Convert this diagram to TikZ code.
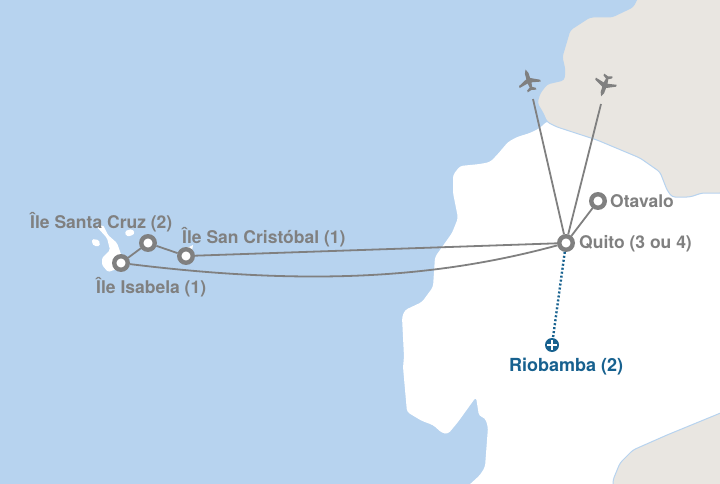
\documentclass[tikz,border=0pt]{standalone}
\usepackage{fontspec}
\setmainfont{TeX Gyre Heros}
\definecolor{sea}{HTML}{B7D3EF}
\definecolor{land}{HTML}{E9E6E1}
\definecolor{route}{HTML}{808080}
\definecolor{extra}{HTML}{17618F}
\newcommand{\planeshape}{(0,-12) -- (1.8,-8) -- (2,-2.5) -- (11,2) -- (11,4) -- (2,2) -- (1.2,6.5) -- (4.5,8.5) -- (4.5,10.5) -- (0,9.2) -- (-4.5,10.5) -- (-4.5,8.5) -- (-1.2,6.5) -- (-2,2) -- (-11,4) -- (-11,2) -- (-2,-2.5) -- (-1.8,-8) -- cycle}
\begin{document}
\begin{tikzpicture}[x=1pt,y=-1pt,
    stop_node/.style={circle,draw=route,fill=white,line width=4.4pt,minimum size=13.5pt,inner sep=0pt},
    extra_node/.style={circle,fill=extra,minimum size=14pt,inner sep=0pt},
    route_label/.style={text=route,inner sep=0pt,font=\bfseries\fontsize{17.5}{17.5}\selectfont},
    extra_label/.style={text=extra,inner sep=0pt,font=\bfseries\fontsize{18}{18}\selectfont},
    route_edge/.style={route,line width=1.8pt},
    extra_edge/.style={extra,line width=2.4pt,dash pattern=on 2pt off 2pt},
    plus_mark/.style={white,line width=2pt},
    plane_mark/.style={fill=route,draw=none},
    land_edge/.style={draw=sea,line width=1pt},
    coast/.style={rounded corners=3pt}]
  \useasboundingbox (0,0) rectangle (720,484);
  \fill[sea] (0,0) rectangle (720,484);
  % ecuador
  \fill[white,coast] (546,122) -- (540,128) -- (530,133) -- (517,137) -- (508,142) -- (497,155) -- (490,162) -- (480,164) -- (460,166) -- (453,175) -- (453,193) -- (458,218) -- (452,233) -- (435,257) -- (433,287) -- (422,302) -- (405,310) -- (402,317) -- (404,357) -- (403,367) -- (407,412) -- (422,421) -- (433,425) -- (442,433) -- (448,434) -- (458,422) -- (476,397) -- (479,416) -- (485,418) -- (488,427) -- (485,467) -- (480,475) -- (468,486) -- (722,486) -- (722,185) -- (670,170) -- (640,150) -- (597,132) -- (557,120) -- cycle;
  % neighbours
  \filldraw[fill=land,land_edge,coast] (638,-3) -- (633,7) -- (612,17) -- (590,17) -- (570,30) -- (562,57) -- (565,70) -- (564,80) -- (547,84) -- (540,93) -- (537,103) -- (543,113) -- (547,122) -- (557,127) -- (597,140) -- (640,158) -- (660,172) -- (667,190) -- (672,197) -- (690,197) -- (702,193) -- (723,193) -- (723,-3) -- cycle;
  \filldraw[fill=land,land_edge,coast] (723,412) -- (667,435) -- (633,450) -- (620,463) -- (613,480) -- (613,487) -- (723,487) -- cycle;
  % islands
  \fill[white,rounded corners=1.5pt] (97,227) -- (103,225) -- (108,235) -- (117,243) -- (122,257) -- (120,268) -- (108,272) -- (102,265) -- (102,258) -- (110,250) -- (107,238) -- cycle;
  \fill[white,rounded corners=1.5pt] (92,239) -- (99,240) -- (100,246) -- (94,246) -- (92,243) -- cycle;
  \fill[white,rounded corners=1.5pt] (125,231) -- (132,229) -- (135,233) -- (131,236) -- (126,236) -- cycle;
  \fill[white] (187,248) -- (193,245) -- (192,251) -- cycle;
  % routes
  \node[stop_node] (quito) at (566,243) {};
  \node[stop_node] (otavalo) at (598,201) {};
  \node[stop_node] (cristobal) at (186,256) {};
  \node[stop_node] (cruz) at (148,243) {};
  \node[stop_node] (isabela) at (121,263) {};
  \node[extra_node] (riobamba) at (552,345) {};
  \coordinate (plane_in) at (533,99);
  \coordinate (plane_out) at (601,104);
  \draw[route_edge] (plane_in) -- (quito);
  \draw[route_edge] (plane_out) -- (quito);
  \draw[route_edge] (quito) -- (otavalo);
  \draw[route_edge] (quito) -- (cristobal);
  \draw[route_edge] (cristobal) -- (cruz);
  \draw[route_edge] (cruz) -- (isabela);
  \draw[route_edge] (isabela) .. controls (300,285) and (430,280) .. (quito);
  \draw[extra_edge] (quito) -- (riobamba);
  \draw[plus_mark] (547,345) -- (557,345) (552,340) -- (552,350);
  % planes
  \path[plane_mark,shift={(529,81)},rotate=17] \planeshape;
  \path[plane_mark,shift={(605,85)},rotate=161] \planeshape;
  % labels
  \node[route_label,anchor=west] (quito_txt) at (579,244) {Quito (3 ou 4)};
  \node[route_label,anchor=west] (otavalo_txt) at (610,201) {Otavalo};
  \node[route_label,anchor=west] (cristobal_txt) at (182,237) {Île San Cristóbal (1)};
  \node[route_label,anchor=west] (cruz_txt) at (30,222) {Île Santa Cruz (2)};
  \node[route_label,anchor=west] (isabela_txt) at (96,287) {Île Isabela (1)};
  \node[extra_label,anchor=west] (riobamba_txt) at (509,367) {Riobamba (2)};
\end{tikzpicture}
\end{document}
